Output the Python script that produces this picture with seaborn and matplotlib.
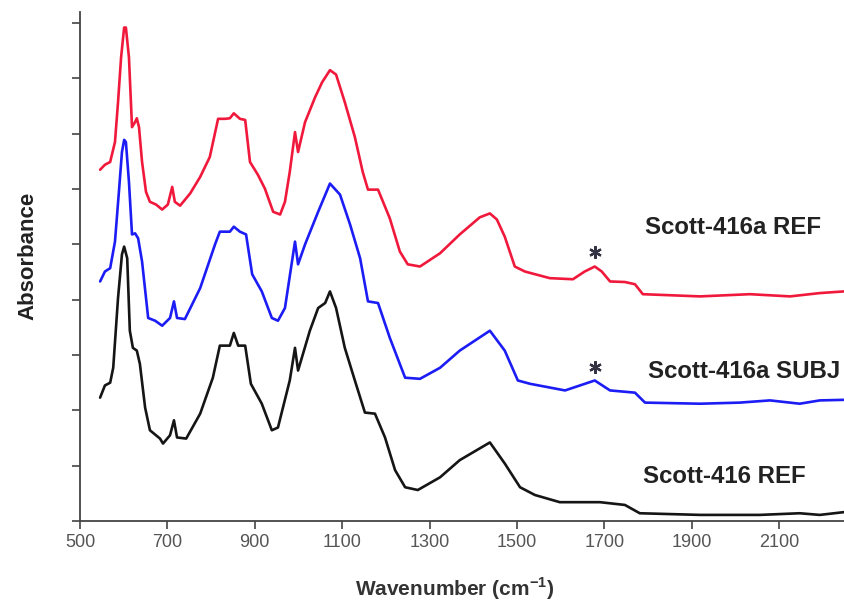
import matplotlib
matplotlib.use('Agg')
import matplotlib.pyplot as plt
import seaborn as sns

# FTIR spectra (wavenumber, absorbance, stacked traces)
ref_a_wn = [546, 557, 569, 580, 587, 594, 601, 605, 612, 619, 626, 630, 635, 642, 651, 660,
            674, 688, 701, 711, 717, 729, 752, 775, 797, 816, 832, 843, 852, 866, 878, 889,
            907, 923, 942, 958, 969, 980, 992, 999, 1015, 1038, 1054, 1072, 1086, 1106, 1129,
            1147, 1159, 1182, 1209, 1232, 1250, 1278, 1324, 1369, 1415, 1438, 1454, 1472,
            1495, 1518, 1575, 1628, 1655, 1678, 1694, 1713, 1747, 1770, 1788, 1919, 2033,
            2125, 2193, 2248]
ref_a_abs = [6.35, 6.44, 6.49, 6.85, 7.57, 8.38, 8.92, 8.92, 8.38, 7.12, 7.21, 7.28, 7.12,
             6.49, 5.95, 5.77, 5.72, 5.63, 5.72, 6.04, 5.77, 5.70, 5.92, 6.22, 6.58, 7.27,
             7.27, 7.28, 7.37, 7.27, 7.25, 6.49, 6.26, 6.01, 5.59, 5.54, 5.77, 6.31, 7.03,
             6.67, 7.21, 7.66, 7.93, 8.15, 8.07, 7.57, 6.94, 6.31, 5.99, 5.99, 5.47, 4.87,
             4.64, 4.60, 4.84, 5.18, 5.49, 5.56, 5.45, 5.14, 4.60, 4.51, 4.39, 4.37, 4.51,
             4.60, 4.51, 4.33, 4.32, 4.28, 4.10, 4.06, 4.10, 4.06, 4.12, 4.15]

subj_a_wn = [546, 557, 569, 580, 589, 596, 601, 605, 612, 619, 626, 633, 642, 656, 672, 688,
             706, 715, 722, 740, 775, 809, 820, 843, 852, 866, 880, 894, 916, 939, 953, 969,
             992, 999, 1015, 1045, 1072, 1095, 1118, 1141, 1159, 1182, 1209, 1244, 1278,
             1324, 1369, 1438, 1472, 1502, 1530, 1610, 1678, 1713, 1770, 1793, 1919, 2010,
             2079, 2147, 2193, 2248]
subj_a_abs = [4.33, 4.51, 4.57, 5.05, 5.95, 6.67, 6.89, 6.85, 6.13, 5.18, 5.20, 5.11, 4.69,
              3.67, 3.62, 3.53, 3.67, 3.97, 3.67, 3.65, 4.21, 5.00, 5.23, 5.23, 5.32, 5.23,
              5.18, 4.46, 4.15, 3.67, 3.62, 3.85, 5.05, 4.64, 5.00, 5.59, 6.10, 5.90, 5.36,
              4.75, 3.97, 3.94, 3.31, 2.59, 2.57, 2.77, 3.08, 3.44, 3.08, 2.54, 2.48, 2.36,
              2.54, 2.36, 2.32, 2.14, 2.12, 2.14, 2.18, 2.12, 2.18, 2.19]

ref_wn = [546, 557, 569, 576, 587, 596, 601, 608, 614, 621, 630, 637, 649, 660, 683, 690,
          706, 715, 722, 743, 775, 804, 820, 843, 852, 862, 878, 891, 916, 939, 953, 980,
          992, 999, 1026, 1045, 1061, 1072, 1086, 1106, 1129, 1152, 1175, 1198, 1221, 1244,
          1273, 1324, 1369, 1438, 1472, 1507, 1541, 1598, 1690, 1747, 1781, 1919, 2056,
          2147, 2193, 2248]
ref_abs = [2.23, 2.45, 2.50, 2.77, 4.03, 4.82, 4.96, 4.75, 3.44, 3.13, 3.08, 2.84, 2.05,
           1.64, 1.49, 1.40, 1.55, 1.82, 1.51, 1.49, 1.94, 2.59, 3.17, 3.17, 3.40, 3.17,
           3.17, 2.48, 2.12, 1.64, 1.69, 2.54, 3.13, 2.72, 3.44, 3.85, 3.94, 4.15, 3.85,
           3.13, 2.54, 1.96, 1.94, 1.51, 0.92, 0.61, 0.56, 0.79, 1.10, 1.42, 1.04, 0.61,
           0.47, 0.34, 0.34, 0.29, 0.14, 0.11, 0.11, 0.14, 0.11, 0.16]

labels = ['Scott-416a REF', 'Scott-416a SUBJ', 'Scott-416 REF']
label_wn = [1793, 1800, 1788]
label_y = [5.3, 2.7, 0.8]
star_wn = 1678
star_y = [4.86, 2.79]
x_ticks = [500, 700, 900, 1100, 1300, 1500, 1700, 1900, 2100]

sns.set_style('ticks')
plt.rcParams['font.family'] = ['Liberation Sans', 'DejaVu Sans']
plt.rcParams['mathtext.fontset'] = 'custom'
plt.rcParams['mathtext.rm'] = 'Liberation Sans'
plt.rcParams['mathtext.bf'] = 'Liberation Sans:bold'

fig = plt.figure(figsize=(8.44, 6.03), dpi=100)
ax = fig.add_axes([0.0948, 0.136, 0.905, 0.844])

sns.lineplot(x=ref_a_wn, y=ref_a_abs, color='#f0193c', lw=1.9, sort=False, estimator=None, ax=ax)
sns.lineplot(x=subj_a_wn, y=subj_a_abs, color='#1c1cf5', lw=1.9, sort=False, estimator=None, ax=ax)
sns.lineplot(x=ref_wn, y=ref_abs, color='#151515', lw=1.9, sort=False, estimator=None, ax=ax)

for lab, lx, ly in zip(labels, label_wn, label_y):
    ax.text(lx, ly, lab, ha='left', va='center', fontsize=17.3,
            fontweight='bold', color='#222222')
for sy in star_y:
    ax.plot([star_wn], [sy], marker=(6, 2, 0), ms=9, mew=1.6, color='#333344', ls='none')

ax.set_xlim(500, 2248)
ax.set_ylim(0, 9.2)
ax.set_xticks(x_ticks)
ax.set_xticklabels([str(t) for t in x_ticks], fontsize=13, color='#555555')
ax.set_yticks(range(10))
ax.set_yticklabels([])
ax.tick_params(axis='both', direction='out', length=6, width=1.2, color='#444444')
for s in ['top', 'right']:
    ax.spines[s].set_visible(False)
for s in ['left', 'bottom']:
    ax.spines[s].set_color('#444444')
    ax.spines[s].set_linewidth(1.3)

ax.set_ylabel('Absorbance', fontsize=16, fontweight='bold', color='#222222')
ax.yaxis.set_label_coords(-0.054, 0.52)
ax.set_xlabel('Wavenumber (cm$^{\\mathbf{-1}}$)', fontsize=15, fontweight='bold',
              color='#333333')
ax.xaxis.set_label_coords(0.49, -0.106)

fig.savefig('out.png', dpi=100)
